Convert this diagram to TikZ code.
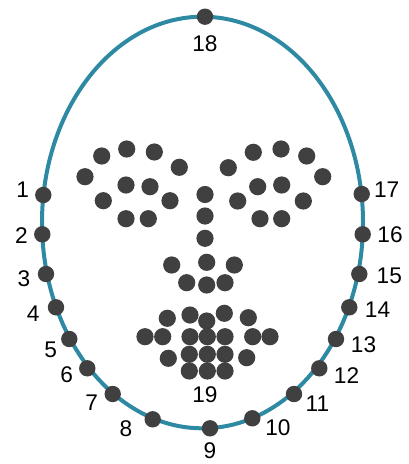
\documentclass[tikz,border=0pt]{standalone}
\usepackage{fontspec}
\setsansfont{Liberation Sans}
\usepackage{xcolor}
\usetikzlibrary{positioning}
\definecolor{outlineteal}{HTML}{2E89A3}
\definecolor{dotgray}{HTML}{404040}
\tikzset{
  outline/.style={draw=outlineteal, line width=3pt},
  lmk/.style={
    circle, fill=dotgray, inner sep=0pt, minimum size=12.3pt
  },
  facedot/.style={
    circle, fill=dotgray, inner sep=0pt, minimum size=12.9pt
  },
  numlabel/.style={
    inner sep=0pt, font=\sffamily\fontsize{17}{17}\selectfont
  }
}

\begin{document}
\begin{tikzpicture}[x=0.75pt, y=-0.75pt]
    \useasboundingbox (0,0) rectangle (408,464);

    % Contorno
    \draw[outline] (202.5,222.5) ellipse [x radius=160.5, y radius=205.8];

    % Puntos del contorno con su numero
    \foreach \i/\x/\y/\lx/\ly in {
        1/43.3/195/22.7/190, 2/42.3/234.3/21.5/235.5,
        3/46/274/24/278.3, 4/56/307.3/33.3/314,
        5/69.3/339/50.7/350, 6/87.3/368.3/66.7/375,
        7/112.7/394/91.7/402.3, 8/152.7/419.3/126/428.3,
        9/210/428.3/210/450.7, 10/252.3/418.3/278/427.7,
        11/294/394/317.5/403.3, 12/319.3/368.3/346.5/375.7,
        13/336/339/363.5/345, 14/349.3/307.3/377.5/310,
        15/359.3/274/389.3/276, 16/362.7/234.3/390/235,
        17/361.7/194/386.7/190, 18/205/16.7/205/43.3}{%
      \node[lmk] (p\i) at (\x,\y) {};
      \node[numlabel] (l\i) at (\lx,\ly) {\i};}

    % Cejas y ojos
    \foreach \x/\y [count=\n] in {
        85/176.7, 101.7/156, 126.7/149, 154.3/152, 179.3/167.3,
        228.3/167.7, 253.3/152.3, 281/149, 306.7/156, 322.7/176.7,
        126/185, 150/186.7, 170/200.7, 148.3/218.7, 126/218.7, 103.3/200.7,
        237.7/201, 257.7/186.7, 281.7/185, 303.3/201, 281.7/218.7, 260/218.7}{%
      \node[facedot] (e\n) at (\x,\y) {};}

    % Nariz
    \foreach \x/\y [count=\n] in {
        205/194.5, 205/216, 205/238.3, 206.7/262.3, 171.7/265,
        186.7/282.7, 206.7/285, 225/282.7, 234.3/265}{%
      \node[facedot] (n\n) at (\x,\y) {};}

    % Boca
    \foreach \x/\y [count=\n] in {
        167.3/318.3, 190/315, 224.3/313.3, 248.3/317.7,
        145/336.7, 162.7/336.7, 190/336.7, 207.3/336.7, 225/336.7,
        252.7/336.7, 270/336.7, 168.3/358.3, 189.3/354.3, 207.3/354.3,
        225/354.3, 246.7/357.7, 189.3/371, 207.3/371, 225/371,
        206.7/321}{%
      \node[facedot] (m\n) at (\x,\y) {};}
    \node[numlabel] (l19) at (205,395) {19};
  \end{tikzpicture}
\end{document}
